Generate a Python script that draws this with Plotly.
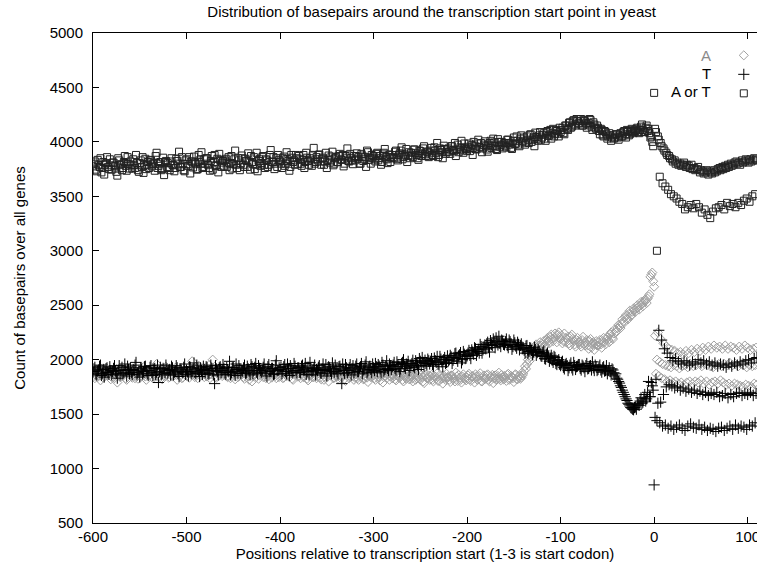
import plotly.graph_objects as go

# positions relative to transcription start
POS_PRE = list(range(-600, 0, 2))       # even upstream positions
POS_PRE_ODD = list(range(-599, 0, 2))   # odd upstream positions
POS_POST = list(range(0, 111))

A_PRE = [
    1870, 1830, 1905, 1855, 1810, 1890, 1845, 1925, 1860, 1880,
    1840, 1900, 1865, 1790, 1885, 1920, 1850, 1875, 1815, 1895,
    1880, 1835, 1910, 1860, 1825, 1895, 1850, 1930, 1845, 1870,
    1855, 1915, 1830, 1880, 1960, 1845, 1900, 1820, 1875, 1935,
    1890, 1840, 1870, 1850, 1925, 1815, 1880, 1905, 1835, 1885,
    1850, 1900, 1875, 1985, 1920, 1870, 1830, 1895, 1855, 1925,
    1885, 1845, 1950, 1865, 2000, 1890, 1835, 1870, 1930, 1850,
    1860, 1920, 1840, 1885, 1855, 1910, 1820, 1875, 1850, 1900,
    1870, 1825, 1890, 1845, 1880, 1800, 1865, 1835, 1905, 1855,
    1885, 1840, 1915, 1850, 1820, 1890, 1845, 1875, 1830, 1900,
    1850, 1895, 1835, 1870, 1930, 1840, 1880, 1815, 1860, 1910,
    1875, 1830, 1895, 1845, 1885, 1810, 1860, 1920, 1840, 1875,
    1845, 1890, 1820, 1865, 1840, 1885, 1800, 1855, 1905, 1835,
    1860, 1825, 1885, 1840, 1865, 1805, 1880, 1830, 1900, 1850,
    1835, 1880, 1815, 1860, 1895, 1825, 1850, 1795, 1870, 1845,
    1855, 1815, 1880, 1835, 1860, 1790, 1875, 1830, 1890, 1845,
    1830, 1875, 1810, 1855, 1835, 1885, 1800, 1845, 1870, 1820,
    1845, 1800, 1870, 1830, 1885, 1815, 1840, 1785, 1860, 1830,
    1815, 1860, 1800, 1845, 1875, 1805, 1850, 1780, 1835, 1870,
    1840, 1795, 1855, 1825, 1880, 1805, 1835, 1790, 1865, 1820,
    1835, 1870, 1805, 1850, 1790, 1845, 1820, 1875, 1800, 1855,
    1825, 1865, 1800, 1845, 1785, 1855, 1820, 1880, 1810, 1840,
    1850, 1805, 1870, 1825, 1845, 1795, 1865, 1820, 1855, 1835,
    1870, 1940, 1960, 2040, 2030, 2100, 2080, 2140, 2090, 2160,
    2100, 2170, 2130, 2200, 2150, 2230, 2170, 2240, 2160, 2250,
    2190, 2150, 2240, 2160, 2210, 2130, 2230, 2170, 2120, 2200,
    2160, 2120, 2210, 2130, 2180, 2100, 2190, 2140, 2090, 2170,
    2130, 2180, 2110, 2200, 2140, 2210, 2160, 2250, 2190, 2280,
    2260, 2320, 2290, 2370, 2340, 2410, 2370, 2450, 2410, 2470,
    2440, 2500, 2460, 2530, 2490, 2550, 2520, 2580, 2760, 2800,
]
A_PRE_ODD = [
    1850, 1895, 1840, 1875, 1915, 1835, 1870, 1855, 1900, 1820,
    1880, 1830, 1915, 1855, 1840, 1870, 1905, 1825, 1890, 1860,
    1845, 1890, 1830, 1875, 1900, 1840, 1880, 1860, 1815, 1905,
    1890, 1840, 1870, 1845, 1895, 1875, 1830, 1890, 1850, 1870,
    1835, 1900, 1845, 1880, 1860, 1890, 1850, 1830, 1895, 1860,
    1880, 1835, 1915, 1870, 1840, 1900, 1945, 1850, 1885, 1840,
    1860, 1895, 1830, 1905, 1875, 1840, 1890, 1855, 1870, 1910,
    1895, 1845, 1880, 1830, 1900, 1860, 1885, 1840, 1905, 1865,
    1840, 1885, 1860, 1815, 1890, 1845, 1875, 1890, 1825, 1880,
    1860, 1890, 1830, 1880, 1865, 1835, 1900, 1850, 1885, 1840,
    1880, 1830, 1900, 1850, 1865, 1890, 1825, 1870, 1895, 1845,
    1850, 1890, 1840, 1870, 1825, 1880, 1855, 1840, 1890, 1830,
    1875, 1835, 1870, 1815, 1880, 1845, 1860, 1880, 1830, 1870,
    1845, 1875, 1830, 1870, 1825, 1860, 1890, 1840, 1855, 1815,
    1865, 1830, 1855, 1845, 1820, 1875, 1835, 1860, 1840, 1880,
    1830, 1865, 1845, 1810, 1880, 1840, 1850, 1865, 1815, 1860,
    1855, 1820, 1860, 1840, 1865, 1815, 1855, 1825, 1840, 1865,
    1825, 1860, 1815, 1855, 1835, 1860, 1800, 1850, 1830, 1855,
    1845, 1815, 1850, 1830, 1805, 1860, 1825, 1855, 1815, 1840,
    1815, 1855, 1830, 1800, 1845, 1860, 1815, 1845, 1830, 1810,
    1855, 1820, 1845, 1830, 1865, 1815, 1850, 1805, 1840, 1825,
    1855, 1815, 1840, 1860, 1830, 1815, 1850, 1825, 1860, 1820,
    1830, 1860, 1815, 1850, 1830, 1860, 1820, 1845, 1825, 1855,
    1900, 1915, 2000, 1990, 2060, 2060, 2120, 2110, 2130, 2130,
    2140, 2130, 2180, 2170, 2210, 2190, 2200, 2210, 2230, 2200,
    2220, 2170, 2200, 2190, 2150, 2210, 2190, 2140, 2180, 2160,
    2140, 2180, 2150, 2160, 2130, 2170, 2110, 2160, 2140, 2130,
    2160, 2140, 2170, 2160, 2190, 2180, 2230, 2200, 2240, 2250,
    2290, 2300, 2330, 2350, 2390, 2380, 2420, 2400, 2440, 2460,
    2470, 2480, 2500, 2510, 2530, 2540, 2560, 2600, 2780, 2720,
]
A_POST = [
    2670, 2220, 1870, 2000, 2250, 1850, 1980, 2190, 1830,
    1960, 2150, 1820, 1950, 2120, 1800, 1940, 2100, 1810,
    1930, 2090, 1790, 1950, 2080, 1800, 1940, 2060, 1780,
    1920, 2070, 1790, 1940, 2050, 1770, 1950, 2080, 1790,
    1930, 2060, 1800, 1960, 2090, 1780, 1940, 2070, 1800,
    1950, 2100, 1790, 1970, 2080, 1810, 1940, 2110, 1780,
    1960, 2090, 1800, 1950, 2120, 1770, 1940, 2100, 1790,
    1930, 2130, 1800, 1950, 2110, 1780, 1960, 2120, 1810,
    1940, 2100, 1790, 1960, 2130, 1770, 1950, 2100, 1780,
    1970, 2120, 1760, 1950, 2110, 1780, 1960, 2090, 1770,
    1940, 2120, 1760, 1960, 2100, 1750, 1950, 2130, 1770,
    1930, 2110, 1760, 1950, 2090, 1750, 1940, 2100, 1780,
    1950, 2110, 1770,
]

T_PRE = [
    1890, 1930, 1860, 1905, 1950, 1875, 1840, 1915, 1880, 1935,
    1860, 1920, 1895, 1830, 1945, 1900, 1870, 1960, 1850, 1910,
    1925, 1865, 1900, 1975, 1880, 1840, 1915, 1890, 1940, 1870,
    1900, 1945, 1855, 1920, 1885, 1790, 1930, 1870, 1905, 1950,
    1875, 1910, 1940, 1860, 1895, 1925, 1845, 1915, 1880, 1960,
    1905, 1850, 1930, 1890, 1970, 1870, 1915, 1845, 1900, 1940,
    1880, 1925, 1870, 1950, 1895, 1780, 1915, 1860, 1935, 1900,
    1920, 1865, 1905, 1985, 1880, 1930, 1855, 1910, 1945, 1875,
    1895, 1950, 1880, 1915, 1860, 1935, 1900, 1965, 1870, 1920,
    1885, 1930, 1905, 1850, 1955, 1895, 1920, 1870, 1990, 1900,
    1910, 1870, 1935, 1890, 1960, 1855, 1920, 1895, 1940, 1880,
    1925, 1880, 1950, 1905, 1865, 1930, 1975, 1890, 1915, 1860,
    1900, 1945, 1875, 1960, 1910, 1850, 1935, 1895, 1970, 1885,
    1915, 1870, 1940, 1780, 1900, 1955, 1880, 1925, 1860, 1945,
    1905, 1960, 1890, 1935, 1870, 1915, 1980, 1895, 1940, 1880,
    1925, 1965, 1890, 1940, 1880, 1950, 1910, 1990, 1900, 1945,
    1935, 1975, 1905, 1955, 1890, 1965, 2000, 1920, 1950, 1900,
    1950, 1995, 1925, 1970, 1910, 1985, 2020, 1940, 1965, 2005,
    1960, 2010, 1940, 1990, 2030, 1955, 2005, 1935, 2020, 1975,
    1990, 2040, 1965, 2020, 2060, 1985, 2045, 1970, 2075, 2010,
    2035, 2085, 2010, 2070, 2110, 2040, 2095, 2140, 2060, 2115,
    2100, 2160, 2070, 2140, 2190, 2110, 2165, 2215, 2120, 2170,
    2135, 2190, 2110, 2165, 2095, 2180, 2125, 2160, 2090, 2145,
    2110, 2060, 2130, 2075, 2105, 2045, 2115, 2040, 2090, 2055,
    2030, 2080, 2005, 2060, 1985, 2040, 1975, 2020, 1955, 2000,
    1945, 1985, 1915, 1965, 1900, 1950, 1925, 1975, 1910, 1940,
    1955, 1905, 1940, 1890, 1965, 1920, 1945, 1980, 1900, 1935,
    1910, 1950, 1885, 1935, 1900, 1870, 1925, 1860, 1905, 1850,
    1830, 1800, 1760, 1720, 1680, 1640, 1600, 1575, 1555, 1540,
    1565, 1600, 1580, 1650, 1610, 1680, 1640, 1800, 1660, 1760,
]
T_PRE_ODD = [
    1915, 1870, 1895, 1940, 1855, 1910, 1885, 1925, 1865, 1900,
    1890, 1945, 1875, 1905, 1860, 1930, 1880, 1905, 1940, 1870,
    1880, 1910, 1950, 1860, 1895, 1925, 1870, 1935, 1895, 1855,
    1930, 1880, 1915, 1865, 1950, 1890, 1860, 1920, 1880, 1915,
    1900, 1860, 1925, 1885, 1945, 1870, 1905, 1890, 1930, 1865,
    1890, 1935, 1870, 1915, 1880, 1950, 1895, 1925, 1865, 1910,
    1935, 1870, 1900, 1920, 1860, 1945, 1890, 1925, 1880, 1955,
    1880, 1930, 1895, 1860, 1925, 1890, 1960, 1875, 1915, 1900,
    1925, 1875, 1940, 1895, 1955, 1870, 1930, 1885, 1945, 1900,
    1905, 1960, 1875, 1935, 1890, 1920, 1865, 1950, 1900, 1925,
    1930, 1895, 1955, 1870, 1915, 1945, 1880, 1965, 1900, 1925,
    1885, 1940, 1905, 1965, 1890, 1860, 1920, 1900, 1950, 1910,
    1930, 1880, 1915, 1900, 1955, 1895, 1925, 1870, 1915, 1950,
    1890, 1935, 1905, 1960, 1875, 1925, 1900, 1955, 1915, 1880,
    1940, 1890, 1925, 1965, 1905, 1950, 1880, 1930, 1910, 1960,
    1900, 1935, 1955, 1915, 1975, 1895, 1940, 1920, 1960, 1910,
    1950, 1920, 1980, 1935, 1915, 1975, 1940, 1960, 1985, 1930,
    1965, 1935, 1990, 1950, 2010, 1945, 1975, 1995, 1950, 1990,
    1985, 1955, 2015, 1975, 1960, 2030, 1980, 2000, 1965, 2035,
    2000, 2025, 1995, 2055, 2010, 2035, 2065, 2000, 2050, 2030,
    2060, 2040, 2090, 2050, 2100, 2075, 2060, 2120, 2090, 2135,
    2145, 2110, 2175, 2130, 2160, 2200, 2135, 2150, 2180, 2140,
    2165, 2130, 2180, 2140, 2120, 2155, 2105, 2140, 2130, 2100,
    2090, 2125, 2060, 2110, 2085, 2070, 2095, 2065, 2075, 2035,
    2065, 2010, 2045, 2025, 2010, 1995, 2030, 1965, 1990, 1960,
    1975, 1930, 1955, 1945, 1925, 1970, 1905, 1945, 1935, 1955,
    1920, 1950, 1925, 1945, 1915, 1940, 1905, 1925, 1950, 1900,
    1935, 1905, 1925, 1895, 1945, 1900, 1890, 1915, 1880, 1870,
    1820, 1785, 1745, 1700, 1660, 1625, 1590, 1560, 1545, 1560,
    1545, 1590, 1620, 1600, 1640, 1620, 1700, 1660, 1790, 1720,
]
T_POST = [
    850, 1470, 1820, 1440, 1600, 2270, 1420, 1610, 2180,
    1390, 1680, 2100, 1400, 1750, 2060, 1370, 1770, 2020,
    1390, 1760, 1990, 1360, 1740, 2010, 1380, 1750, 1980,
    1400, 1720, 1960, 1370, 1740, 1990, 1350, 1710, 1970,
    1390, 1730, 1950, 1410, 1700, 1980, 1380, 1720, 1960,
    1370, 1690, 2000, 1400, 1710, 1970, 1360, 1680, 1990,
    1380, 1700, 1960, 1350, 1670, 1980, 1370, 1690, 1950,
    1360, 1680, 1970, 1340, 1700, 1940, 1370, 1660, 1960,
    1380, 1670, 1950, 1350, 1690, 1930, 1370, 1650, 1960,
    1390, 1680, 1940, 1360, 1660, 1970, 1400, 1690, 1950,
    1370, 1700, 1980, 1390, 1670, 1960, 1380, 1690, 1990,
    1360, 1680, 2000, 1400, 1700, 1970, 1390, 1670, 2010,
    1420, 1690, 2020,
]

AT_PRE = [
    3775, 3820, 3730, 3790, 3850, 3760, 3700, 3805, 3770, 3840,
    3745, 3810, 3780, 3690, 3830, 3795, 3760, 3870, 3735, 3800,
    3820, 3755, 3790, 3880, 3740, 3805, 3770, 3715, 3845, 3790,
    3760, 3830, 3795, 3735, 3900, 3780, 3815, 3750, 3695, 3825,
    3805, 3740, 3850, 3785, 3760, 3825, 3910, 3770, 3800, 3730,
    3840, 3780, 3710, 3820, 3865, 3795, 3750, 3830, 3905, 3770,
    3800, 3850, 3760, 3825, 3745, 3880, 3790, 3720, 3835, 3810,
    3775, 3845, 3810, 3740, 3870, 3795, 3920, 3760, 3830, 3800,
    3850, 3770, 3825, 3895, 3745, 3815, 3860, 3790, 3730, 3840,
    3805, 3870, 3760, 3830, 3790, 3925, 3815, 3750, 3850, 3880,
    3820, 3760, 3865, 3800, 3840, 3735, 3880, 3815, 3790, 3850,
    3870, 3800, 3835, 3760, 3900, 3825, 3850, 3780, 3945, 3815,
    3840, 3885, 3790, 3855, 3820, 3760, 3875, 3830, 3910, 3800,
    3860, 3815, 3890, 3835, 3775, 3870, 3940, 3820, 3850, 3795,
    3830, 3895, 3860, 3800, 3875, 3840, 3770, 3905, 3850, 3880,
    3870, 3820, 3900, 3850, 3790, 3885, 3935, 3840, 3860, 3815,
    3880, 3850, 3920, 3830, 3895, 3950, 3860, 3885, 3815, 3905,
    3900, 3860, 3930, 3880, 3835, 3915, 3890, 3960, 3870, 3910,
    3895, 3945, 3870, 3920, 3990, 3880, 3925, 3850, 3935, 3905,
    3940, 3890, 3960, 3915, 3870, 3975, 3930, 4010, 3900, 3945,
    3920, 3985, 3940, 3880, 3965, 3930, 4020, 3950, 3905, 3975,
    3960, 3910, 3990, 3945, 4030, 3960, 3925, 4000, 3970, 3940,
    3990, 3950, 4020, 3975, 3935, 4040, 3985, 4010, 3960, 4060,
    4010, 3975, 4050, 3990, 4070, 4020, 3960, 4045, 4010, 4090,
    4040, 4080, 4010, 4100, 4060, 4030, 4120, 4070, 4100, 4050,
    4090, 4130, 4070, 4150, 4110, 4180, 4140, 4200, 4150, 4190,
    4170, 4210, 4150, 4190, 4130, 4175, 4200, 4110, 4160, 4120,
    4130, 4070, 4110, 4050, 4090, 4030, 4080, 4010, 4060, 4040,
    4070, 4020, 4080, 4050, 4100, 4040, 4090, 4070, 4120, 4080,
    4100, 4130, 4080, 4140, 4110, 4090, 4150, 4120, 4040, 4000,
]
AT_PRE_ODD = [
    3800, 3745, 3835, 3770, 3720, 3815, 3790, 3860, 3750, 3785,
    3810, 3765, 3725, 3850, 3790, 3740, 3815, 3780, 3860, 3755,
    3785, 3840, 3760, 3805, 3725, 3830, 3860, 3790, 3750, 3815,
    3835, 3775, 3810, 3870, 3760, 3800, 3740, 3855, 3815, 3770,
    3760, 3820, 3790, 3730, 3845, 3800, 3770, 3860, 3740, 3830,
    3795, 3860, 3820, 3765, 3810, 3745, 3880, 3800, 3760, 3840,
    3850, 3790, 3735, 3870, 3815, 3780, 3845, 3890, 3770, 3825,
    3830, 3770, 3860, 3800, 3755, 3840, 3790, 3850, 3740, 3875,
    3790, 3845, 3770, 3820, 3870, 3795, 3750, 3900, 3825, 3780,
    3860, 3790, 3840, 3770, 3880, 3820, 3860, 3800, 3770, 3835,
    3800, 3850, 3780, 3905, 3825, 3770, 3855, 3830, 3880, 3795,
    3840, 3780, 3880, 3815, 3855, 3790, 3830, 3875, 3800, 3860,
    3880, 3820, 3845, 3790, 3900, 3835, 3810, 3865, 3785, 3850,
    3815, 3870, 3840, 3880, 3800, 3855, 3825, 3890, 3830, 3870,
    3870, 3845, 3800, 3890, 3825, 3860, 3920, 3835, 3800, 3855,
    3840, 3890, 3830, 3870, 3815, 3900, 3860, 3805, 3885, 3850,
    3860, 3910, 3845, 3880, 3920, 3840, 3875, 3935, 3870, 3850,
    3875, 3930, 3895, 3850, 3920, 3870, 3940, 3885, 3910, 3860,
    3920, 3880, 3950, 3900, 3860, 3940, 3905, 3965, 3890, 3930,
    3910, 3960, 3925, 3990, 3930, 3905, 3950, 3920, 3985, 3935,
    3955, 3915, 3970, 4000, 3935, 3985, 3950, 3990, 3940, 4005,
    3930, 3975, 4010, 3960, 3995, 3935, 4025, 3955, 4000, 3985,
    3965, 4020, 3990, 3945, 4010, 3980, 4050, 3975, 4030, 3995,
    4040, 3995, 4020, 4065, 4000, 4040, 4085, 4030, 4060, 4020,
    4065, 4030, 4090, 4055, 4110, 4080, 4050, 4110, 4075, 4130,
    4110, 4080, 4150, 4120, 4175, 4130, 4190, 4160, 4210, 4170,
    4190, 4150, 4200, 4170, 4160, 4210, 4140, 4180, 4130, 4150,
    4100, 4120, 4060, 4100, 4070, 4050, 4060, 4040, 4030, 4070,
    4040, 4060, 4050, 4090, 4070, 4110, 4060, 4100, 4090, 4110,
    4120, 4090, 4110, 4160, 4090, 4130, 4100, 4080, 4050, 3960,
]
AT_POST = [
    4450, 4120, 4090, 3000, 4050, 4020, 3680, 3990, 3960,
    3620, 3940, 3920, 3590, 3900, 3880, 3560, 3870, 3850,
    3520, 3840, 3820, 3500, 3830, 3800, 3480, 3810, 3790,
    3450, 3800, 3780, 3430, 3790, 3810, 3380, 3770, 3790,
    3400, 3780, 3760, 3420, 3790, 3750, 3390, 3760, 3740,
    3430, 3750, 3770, 3400, 3720, 3740, 3350, 3730, 3710,
    3380, 3720, 3740, 3330, 3700, 3730, 3300, 3720, 3710,
    3360, 3740, 3720, 3390, 3730, 3750, 3400, 3760, 3740,
    3420, 3770, 3750, 3380, 3780, 3760, 3440, 3790, 3770,
    3410, 3800, 3780, 3430, 3790, 3810, 3400, 3820, 3800,
    3440, 3810, 3790, 3420, 3830, 3810, 3460, 3820, 3840,
    3480, 3830, 3810, 3450, 3840, 3820, 3500, 3830, 3850,
    3520, 3840, 3830,
]

SERIES_NAMES = ["A", "T", "A or T"]
X_TICKS = [-600, -500, -400, -300, -200, -100, 0, 100]
X_TICK_TEXT = ["-600", "-500", "-400", "-300", "-200", "-100", "0", "100"]
Y_TICKS = [500, 1000, 1500, 2000, 2500, 3000, 3500, 4000, 4500, 5000]

FONT = "Liberation Sans, Arial, sans-serif"
FS = 15

x_all = POS_PRE + POS_PRE_ODD + POS_POST
series = [
    (A_PRE + A_PRE_ODD + A_POST, "diamond-open", "#a0a0a0", 7),
    (T_PRE + T_PRE_ODD + T_POST, "cross-thin-open", "#000000", 8),
    (AT_PRE + AT_PRE_ODD + AT_POST, "square-open", "#222222", 7),
]

fig = go.Figure()
for (vals, sym, col, size), name in zip(series, SERIES_NAMES):
    fig.add_trace(go.Scatter(
        x=x_all, y=vals, mode="markers", name="",
        marker=dict(symbol=sym, size=size, color=col,
                    line=dict(color=col, width=1)),
        showlegend=True,
    ))

# legend labels drawn to the left of the legend symbols (gnuplot style)
label_colors = ["#8a8a8a", "#000000", "#000000"]
label_y = [0.955, 0.918, 0.880]
for name, c, yy in zip(SERIES_NAMES, label_colors, label_y):
    fig.add_annotation(text=name, xref="paper", yref="paper", x=0.934, y=yy,
                       xanchor="right", yanchor="middle", showarrow=False,
                       font=dict(family=FONT, size=FS, color=c))

fig.update_layout(
    width=757, height=564,
    margin=dict(l=93, r=0, t=33, b=41, autoexpand=False),
    paper_bgcolor="white", plot_bgcolor="white",
    font=dict(family=FONT, size=FS, color="black"),
    title=dict(text="Distribution of basepairs around the transcription start point in yeast",
               x=0.51, xref="paper", xanchor="center", y=0.979, yanchor="middle",
               font=dict(family=FONT, size=FS, color="black")),
    showlegend=True,
    legend=dict(xref="paper", yref="paper", x=0.950, xanchor="left",
                y=0.984, yanchor="top",
                bgcolor="rgba(0,0,0,0)", borderwidth=0,
                font=dict(size=11), tracegroupgap=0, itemwidth=30),
)
fig.update_xaxes(range=[-600, 110], tickvals=X_TICKS, ticktext=X_TICK_TEXT,
                 ticks="inside", ticklen=6, ticklabeloverflow="allow",
                 showline=True, linecolor="black", linewidth=1, mirror="ticks",
                 showgrid=False, zeroline=False, tickcolor="black",
                 tickfont=dict(family=FONT, size=FS),
                 title=dict(text="Positions relative to transcription start (1-3 is start codon)",
                            standoff=1, font=dict(family=FONT, size=FS)))
fig.update_yaxes(range=[500, 5000], tickvals=Y_TICKS, ticks="inside", ticklen=6,
                 showline=True, linecolor="black", linewidth=1, mirror=False,
                 showgrid=False, zeroline=False, tickcolor="black",
                 tickfont=dict(family=FONT, size=FS), ticklabelstandoff=6,
                 title=dict(text="Count of basepairs over all genes", standoff=20,
                            font=dict(family=FONT, size=FS)))

fig.write_html("out.html")
